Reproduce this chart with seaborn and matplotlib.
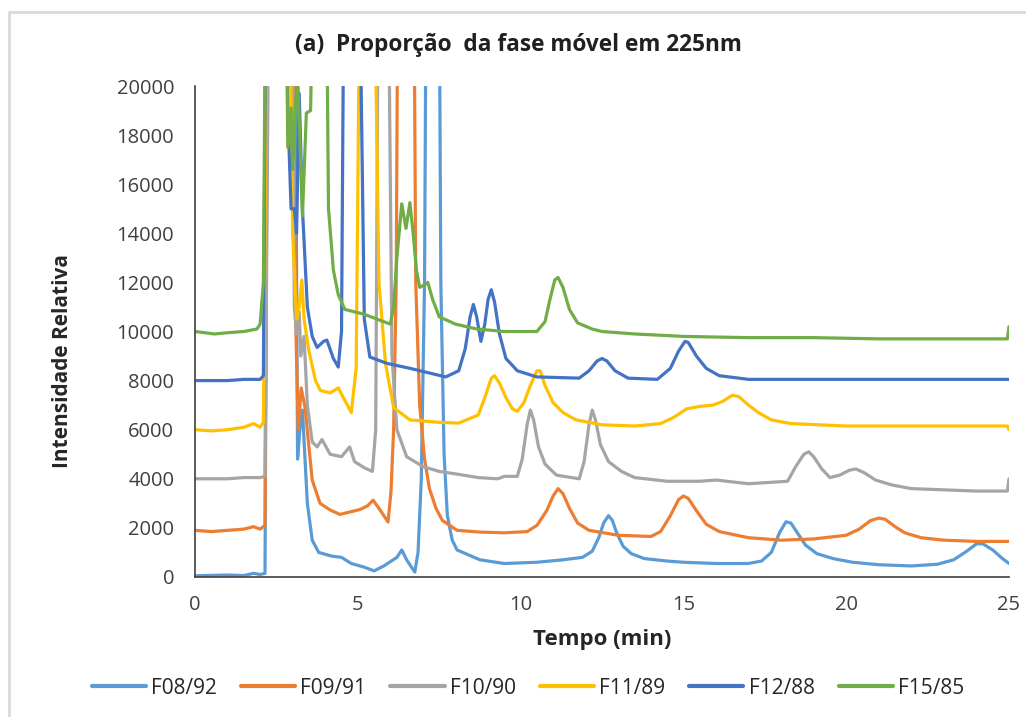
import numpy as np
import pandas as pd
import seaborn as sns
import matplotlib.pyplot as plt
from matplotlib.lines import Line2D

# --- data (time in min, relative intensity) ---
# values above 20000 are off scale in the original, they get clipped by ylim
t_f08 = [0, 1.0, 1.5, 1.8, 2.0, 2.15, 2.25, 3.05, 3.15, 3.22, 3.3, 3.45, 3.6, 3.8, 4.2, 4.5, 4.8, 5.2, 5.5,
         5.8, 6.2, 6.35, 6.5, 6.75, 6.85, 6.95, 7.05, 7.12, 7.48, 7.55, 7.65, 7.75, 7.9, 8.05, 8.75, 9.5, 10.5,
         11.3, 11.9, 12.2, 12.4, 12.55, 12.7, 12.82, 12.95, 13.15, 13.4, 13.8, 14.5, 15, 16, 17, 17.4, 17.7,
         17.95, 18.15, 18.3, 18.5, 18.75, 19.1, 19.6, 20.2, 21, 22, 22.8, 23.3, 23.7, 24.0, 24.2, 24.5, 24.8, 25]
i_f08 = [50, 80, 60, 150, 100, 150, 30000, 30000, 4800, 6000, 6800, 3000, 1500, 1000, 850, 800, 550, 400, 250,
         450, 800, 1100, 700, 200, 1000, 4000, 12000, 30000, 30000, 12000, 5000, 2500, 1500, 1100, 700, 550, 600,
         700, 800, 1050, 1600, 2200, 2500, 2300, 1800, 1250, 950, 750, 650, 600, 550, 550, 650, 1000,
         1800, 2250, 2200, 1800, 1300, 950, 750, 600, 500, 450, 520, 700, 1050, 1350, 1350, 1100, 750, 550]

t_f09 = [0, 0.5, 1.0, 1.5, 1.8, 2.0, 2.15, 2.25, 2.95, 3.1, 3.17, 3.26, 3.38, 3.6, 3.84, 4.15, 4.45, 5.07,
         5.3, 5.47, 5.7, 5.93, 6.02, 6.1, 6.18, 6.25, 6.7, 6.78, 6.9, 7.05, 7.2, 7.4, 7.6, 8.05, 8.75, 9.5,
         10.2, 10.5, 10.8, 11.0, 11.15, 11.3, 11.5, 11.75, 12.1, 13, 14, 14.3, 14.6, 14.85, 15.0, 15.15, 15.4,
         15.7, 16.1, 17, 18, 19, 20, 20.4, 20.75, 21.0, 21.2, 21.5, 21.8, 22.3, 23, 24, 25]
i_f09 = [1900, 1850, 1900, 1950, 2050, 1950, 2100, 30000, 30000, 10000, 6000, 7700, 6900, 3950, 3000, 2730, 2550, 2750,
         2900, 3130, 2700, 2240, 3500, 6000, 12000, 30000, 30000, 12000, 7000, 4800, 3600, 2800, 2300, 1900, 1830, 1800,
         1850, 2100, 2700, 3300, 3600, 3400, 2800, 2200, 1900, 1700, 1650, 1850, 2500, 3150, 3300, 3200, 2700,
         2150, 1850, 1600, 1500, 1550, 1700, 1950, 2300, 2400, 2350, 2050, 1800, 1600, 1500, 1450, 1450]

t_f10 = [0, 1.0, 1.5, 2.0, 2.15, 2.3, 2.95, 3.05, 3.12, 3.2, 3.25, 3.35, 3.45, 3.6, 3.75, 3.9, 4.15, 4.5, 4.75,
         4.9, 5.2, 5.45, 5.55, 5.65, 5.9, 6.05, 6.2, 6.5, 7.0, 7.5, 8.0, 8.7, 9.3, 9.5, 9.9, 10.05, 10.2, 10.3,
         10.4, 10.55, 10.75, 11.1, 11.8, 11.95, 12.1, 12.2, 12.3, 12.45, 12.7, 13.1, 13.5, 14.5, 15.5, 16, 17,
         18.2, 18.45, 18.7, 18.85, 19.0, 19.25, 19.5, 19.8, 20.1, 20.3, 20.55, 20.9, 21.4, 22, 23, 24, 24.95, 25]
i_f10 = [4000, 4000, 4050, 4050, 4100, 30000, 30000, 11000, 9900, 10800, 9000, 9800, 7000, 5500, 5300, 5600, 5000, 4900, 5300,
         4700, 4450, 4300, 6000, 30000, 30000, 9000, 6000, 4900, 4500, 4300, 4200, 4050, 4000, 4100, 4100, 4800, 6200, 6800,
         6400, 5300, 4600, 4150, 4000, 4700, 6200, 6800, 6400, 5400, 4700, 4300, 4050, 3900, 3900, 3950, 3800,
         3900, 4500, 5000, 5100, 4900, 4400, 4050, 4150, 4350, 4400, 4250, 3950, 3750, 3600, 3550, 3500, 3500, 4000]

t_f11 = [0, 0.5, 1.0, 1.5, 1.8, 2.0, 2.1, 2.25, 2.85, 3.0, 3.12, 3.2, 3.28, 3.35, 3.5, 3.7, 3.85, 4.15, 4.4,
         4.6, 4.8, 4.95, 5.1, 5.45, 5.65, 5.85, 6.1, 6.6, 7.5, 8.1, 8.7, 8.9, 9.1, 9.2, 9.35, 9.55, 9.75, 9.9,
         10.1, 10.3, 10.5, 10.6, 10.75, 11.0, 11.3, 11.7, 12.5, 13.5, 14.3, 14.7, 15.1, 15.5, 15.9, 16.2, 16.5,
         16.7, 17.0, 17.3, 17.7, 18.3, 20, 22, 24, 24.95, 25]
i_f11 = [6000, 5950, 6000, 6100, 6250, 6100, 6300, 30000, 30000, 14000, 10500, 11000, 12100, 10500, 9200, 8000, 7600, 7500, 7700,
         7200, 6700, 8500, 30000, 30000, 12000, 8700, 6900, 6400, 6300, 6270, 6600, 7300, 8100, 8200, 7900, 7300, 6850, 6750,
         7100, 7800, 8400, 8400, 7800, 7100, 6700, 6400, 6200, 6150, 6250, 6500, 6850, 6950, 7000, 7150, 7400,
         7350, 7000, 6700, 6400, 6250, 6150, 6150, 6150, 6150, 6000]

t_f12 = [0, 1.0, 1.5, 2.0, 2.1, 2.2, 2.75, 2.85, 2.95, 3.05, 3.12, 3.2, 3.3, 3.45, 3.6, 3.75, 3.95, 4.05, 4.25,
         4.4, 4.5, 4.6, 5.0, 5.2, 5.37, 5.9, 6.6, 7.7, 8.1, 8.3, 8.45, 8.55, 8.65, 8.78, 8.9, 9.0, 9.1, 9.2,
         9.35, 9.55, 9.9, 10.5, 11.8, 12.1, 12.35, 12.5, 12.65, 12.9, 13.3, 14.2, 14.6, 14.85, 15.05, 15.15,
         15.4, 15.7, 16.1, 17, 20, 25]
i_f12 = [8000, 8000, 8050, 8050, 8200, 30000, 30000, 19000, 15000, 15000, 14000, 19700, 15000, 11000, 9800, 9350, 9600, 9650, 8900,
         8550, 10000, 30000, 30000, 10500, 8960, 8700, 8500, 8150, 8400, 9300, 10600, 11100, 10600, 9600, 10300, 11300, 11700, 11200,
         9900, 8900, 8400, 8150, 8100, 8400, 8800, 8900, 8800, 8400, 8100, 8050, 8500, 9200, 9600, 9550,
         9000, 8500, 8200, 8050, 8050, 8050]

t_f15 = [0, 0.3, 0.6, 1.0, 1.5, 1.9, 2.0, 2.1, 2.2, 2.75, 2.85, 2.95, 3.0, 3.08, 3.15, 3.3, 3.42, 3.55, 3.7,
         4.0, 4.1, 4.25, 4.4, 4.6, 4.9, 5.2, 5.5, 5.8, 6.0, 6.1, 6.2, 6.35, 6.48, 6.6, 6.7, 6.8, 6.9, 7.05,
         7.15, 7.3, 7.5, 8.0, 8.66, 9.5, 10.5, 10.75, 10.9, 11.05, 11.15, 11.3, 11.5, 11.75, 12.2, 12.5, 13.5,
         15, 17, 19, 21, 23, 24.95, 25]
i_f15 = [10000, 9950, 9900, 9950, 10000, 10100, 10300, 12000, 30000, 30000, 17500, 19100, 16600, 19000, 20500, 14700, 18900, 19000, 30000,
         30000, 15000, 12500, 11500, 10900, 10800, 10700, 10550, 10400, 10300, 11000, 13000, 15200, 14200, 15250, 14000, 12500, 11800, 11900,
         12000, 11300, 10600, 10300, 10100, 10000, 10000, 10400, 11300, 12100, 12200, 11800, 10900, 10350, 10100, 10000, 9900,
         9800, 9750, 9750, 9700, 9700, 9700, 10200]

series_names = ["F08/92", "F09/91", "F10/90", "F11/89", "F12/88", "F15/85"]
series_t = [t_f08, t_f09, t_f10, t_f11, t_f12, t_f15]
series_i = [i_f08, i_f09, i_f10, i_f11, i_f12, i_f15]
colores = ["#5B9BD5", "#ED7D31", "#A5A5A5", "#FFC000", "#4472C4", "#70AD47"]

x_ticks = [0, 5, 10, 15, 20, 25]
y_ticks = [0, 2000, 4000, 6000, 8000, 10000, 12000, 14000, 16000, 18000, 20000]

# tableau long pour seaborn
frames = []
for nom, t, i in zip(series_names, series_t, series_i):
    frames.append(pd.DataFrame({"Tempo": t, "Intensidade": i, "Amostra": nom}))
df = pd.concat(frames, ignore_index=True)

sns.set_style("white")
plt.rcParams['font.family'] = ['Open Sans', 'DejaVu Sans']

fig = plt.figure(figsize=(10.26, 7.17), dpi=100)
ax = fig.add_axes([195/1026, 1-577/717, (1009-195)/1026, (577-86)/717])

sns.lineplot(data=df, x="Tempo", y="Intensidade", hue="Amostra", hue_order=series_names,
             palette=colores, estimator=None, sort=False, linewidth=2.3, ax=ax, legend=False)

ax.set_xlim(0, 25)
ax.set_ylim(0, 20000)
ax.set_xticks(x_ticks)
ax.set_yticks(y_ticks)
ax.tick_params(axis='both', length=0, labelsize=14.5, colors="#404040")
ax.tick_params(axis='y', pad=15)
ax.tick_params(axis='x', pad=13)
for s in ["top", "right"]:
    ax.spines[s].set_visible(False)
for s in ["left", "bottom"]:
    ax.spines[s].set_color("#404040")
    ax.spines[s].set_linewidth(1.2)

ax.set_xlabel("Tempo (min)", fontsize=16, fontweight="bold", labelpad=10)
ax.set_ylabel("Intensidade Relativa", fontsize=15, fontweight="bold")
ax.yaxis.set_label_coords(-0.150, 0.44)

fig.text(518/1026, 1-45/717, "(a)  Proporção  da fase móvel em 225nm", ha="center", va="center",
         fontsize=16.3, fontweight="bold", color="#202020")

handles = [Line2D([0], [0], color=c, lw=3) for c in colores]
fig.legend(handles, series_names, loc="center", bbox_to_anchor=(528/1026, 1-688/717), ncol=6,
           frameon=False, fontsize=15, handlelength=2.6, handletextpad=0.25, columnspacing=1.15)

# cadre gris de la figure
fig.add_artist(Line2D([9/1026, 1], [1-12/717, 1-12/717], color="#d9d9d9", lw=2, transform=fig.transFigure))
fig.add_artist(Line2D([9/1026, 9/1026], [0, 1-12/717], color="#d9d9d9", lw=2, transform=fig.transFigure))

fig.savefig("out.png", dpi=100)
